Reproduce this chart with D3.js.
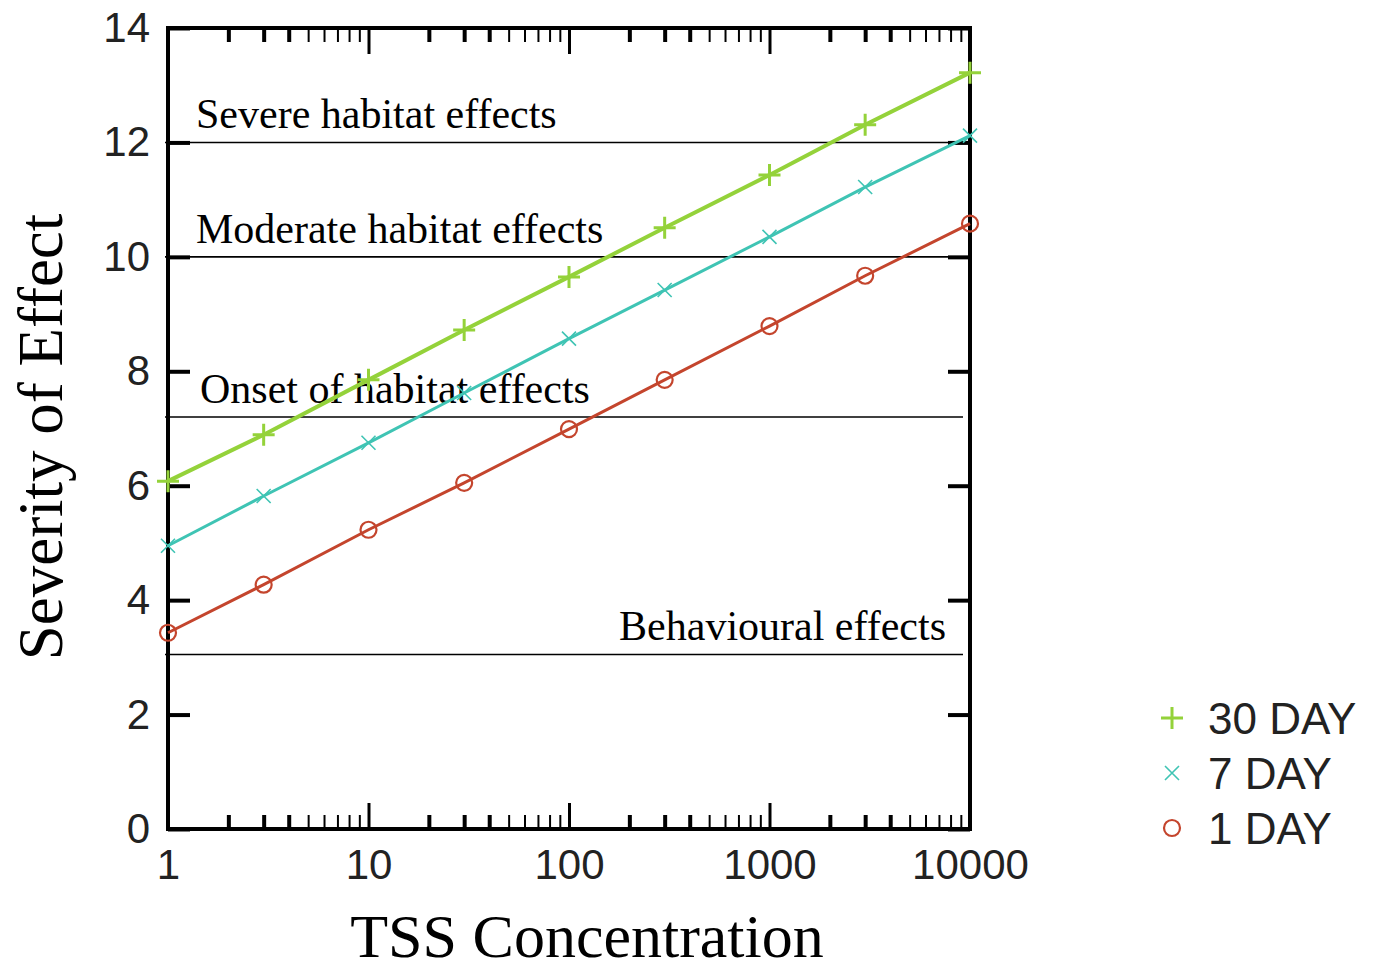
<!DOCTYPE html>
<html>
<head>
<meta charset="utf-8">
<script src="https://cdn.jsdelivr.net/npm/d3@7"></script>
<style>
  body { margin: 0; background: #fff; }
  .tick text { font-family: "Liberation Sans", Arial, sans-serif; font-size: 42px; fill: #222; }
  .serif { font-family: "Liberation Serif", "Times New Roman", serif; fill: #000; }
</style>
</head>
<body>
<div id="chart"></div>
<script>
// TSS concentration (x) and severity of effect for each exposure duration
var concentration = [1, 3, 10, 30, 100, 300, 1000, 3000, 10000];
var day30 = [6.08, 6.89, 7.85, 8.72, 9.65, 10.51, 11.43, 12.31, 13.22];
var day7  = [4.95, 5.82, 6.75, 7.62, 8.57, 9.42, 10.35, 11.22, 12.12];
var day1  = [3.43, 4.27, 5.23, 6.05, 6.99, 7.85, 8.79, 9.67, 10.58];

var seriesNames = ["30 DAY", "7 DAY", "1 DAY"];
var thresholdValues = [12, 10, 7.2, 3.05];
var thresholdLabels = ["Severe habitat effects", "Moderate habitat effects", "Onset of habitat effects", "Behavioural effects"];

var yTicks = [0, 2, 4, 6, 8, 10, 12, 14];
var xMajor = [1, 10, 100, 1000, 10000];

var width = 1373, height = 972;
var margin = {top: 28, right: 403, bottom: 143, left: 168};

var svg = d3.select("#chart")
    .append("svg")
        .attr("width", width)
        .attr("height", height);

var x = d3.scaleLog()
    .domain([1, 10000])
    .range([margin.left, width - margin.right]);
var y = d3.scaleLinear()
    .domain([0, 14])
    .range([height - margin.bottom, margin.top]);

// minor ticks 2..9 in every decade
var xMinor = [];
xMajor.slice(0, -1).forEach(function(d){
    for (var k = 2; k < 10; k++) xMinor.push(d * k);
});

function clean(g){
    g.select(".domain").remove();
    g.selectAll("line").attr("stroke", "#000");
}
// first few minor ticks of a decade are drawn heavier
function minorWidth(d){
    var m = d / Math.pow(10, Math.floor(Math.log10(d) + 1e-9));
    return m < 4.5 ? 4 : 2;
}

// y axes (left with labels, right without)
svg.append("g")
    .attr("transform", "translate(" + x(1) + ",0)")
    .call(d3.axisLeft(y).tickValues(yTicks).tickSize(-22).tickPadding(18))
    .call(clean)
    .selectAll("line").attr("stroke-width", 4);
svg.append("g")
    .attr("transform", "translate(" + x(10000) + ",0)")
    .call(d3.axisRight(y).tickValues(yTicks).tickSize(-22).tickFormat(""))
    .call(clean)
    .selectAll("line").attr("stroke-width", 4);

// x axes
svg.append("g")
    .attr("transform", "translate(0," + y(0) + ")")
    .call(d3.axisBottom(x).tickValues(xMajor).tickSize(-26).tickPadding(20).tickFormat(d3.format("d")))
    .call(clean)
    .selectAll("line").attr("stroke-width", 3);
svg.append("g")
    .attr("transform", "translate(0," + y(0) + ")")
    .call(d3.axisBottom(x).tickValues(xMinor).tickSize(-14).tickFormat(""))
    .call(clean)
    .selectAll("line").attr("stroke-width", minorWidth);
svg.append("g")
    .attr("transform", "translate(0," + y(14) + ")")
    .call(d3.axisTop(x).tickValues(xMajor).tickSize(-26).tickFormat(""))
    .call(clean)
    .selectAll("line").attr("stroke-width", 3);
svg.append("g")
    .attr("transform", "translate(0," + y(14) + ")")
    .call(d3.axisTop(x).tickValues(xMinor).tickSize(-14).tickFormat(""))
    .call(clean)
    .selectAll("line").attr("stroke-width", minorWidth);

// frame
svg.append("rect")
    .attr("x", x(1))
    .attr("y", y(14))
    .attr("width", x(10000) - x(1))
    .attr("height", y(0) - y(14))
    .attr("fill", "none")
    .attr("stroke", "#000")
    .attr("stroke-width", 4);

// threshold lines and labels
svg.selectAll(".threshold")
    .data(thresholdValues)
    .enter()
    .append("line")
        .attr("class", "threshold")
        .attr("x1", x(1) - 3)
        .attr("x2", x(10000) - 7)
        .attr("y1", d => y(d))
        .attr("y2", d => y(d))
        .attr("stroke", "#000")
        .attr("stroke-width", 1.6);

svg.selectAll(".tlabel")
    .data(thresholdValues)
    .enter()
    .append("text")
        .attr("class", "tlabel serif")
        .attr("x", (d,i) => i == 3 ? x(10000) - 24 : x(1) + (i == 2 ? 32 : 28))
        .attr("y", d => y(d) - 14)
        .attr("text-anchor", (d,i) => i == 3 ? "end" : "start")
        .style("font-size", "42px")
        .text((d,i) => thresholdLabels[i]);

// series
var series = [
    {name: seriesNames[0], values: day30, color: "#94d23a", width: 4, marker: "plus"},
    {name: seriesNames[1], values: day7, color: "#3fc4b4", width: 3, marker: "cross"},
    {name: seriesNames[2], values: day1, color: "#c4452d", width: 3, marker: "circle"}
];

var line = d3.line()
    .x((d,i) => x(concentration[i]))
    .y(d => y(d));

function drawMarker(g, type, color){
    if (type == "plus") {
        g.append("path").attr("d", "M-11,0H11M0,-11V11")
            .attr("stroke", color).attr("stroke-width", 3).attr("fill", "none");
    } else if (type == "cross") {
        g.append("path").attr("d", "M-7,-7L7,7M-7,7L7,-7")
            .attr("stroke", color).attr("stroke-width", 1.6).attr("fill", "none");
    } else {
        g.append("circle").attr("r", 8)
            .attr("stroke", color).attr("stroke-width", 2.2).attr("fill", "none");
    }
}

series.forEach(function(s){
    svg.append("path")
        .datum(s.values)
        .attr("d", line)
        .attr("fill", "none")
        .attr("stroke", s.color)
        .attr("stroke-width", s.width);
    svg.selectAll(null)
        .data(s.values)
        .enter()
        .append("g")
            .attr("transform", (d,i) => "translate(" + x(concentration[i]) + "," + y(d) + ")")
            .each(function(){ drawMarker(d3.select(this), s.marker, s.color); });
});

// legend
var legend = svg.append("g").attr("transform", "translate(1172,718)");
series.forEach(function(s, i){
    var item = legend.append("g").attr("transform", "translate(0," + i * 55 + ")");
    drawMarker(item, s.marker, s.color);
    item.append("text")
        .attr("x", 36)
        .attr("y", 16)
        .style("font-family", "Liberation Sans, Arial, sans-serif")
        .style("font-size", "44px")
        .attr("fill", "#222")
        .text(s.name);
});

// axis titles
svg.append("text")
    .attr("class", "serif")
    .attr("x", (x(1) + x(10000)) / 2 + 18)
    .attr("y", 957)
    .attr("text-anchor", "middle")
    .style("font-size", "62px")
    .text("TSS Concentration");

svg.append("text")
    .attr("class", "serif")
    .attr("transform", "translate(62,437) rotate(-90)")
    .attr("text-anchor", "middle")
    .style("font-size", "63px")
    .text("Severity of Effect");
</script>
</body>
</html>
